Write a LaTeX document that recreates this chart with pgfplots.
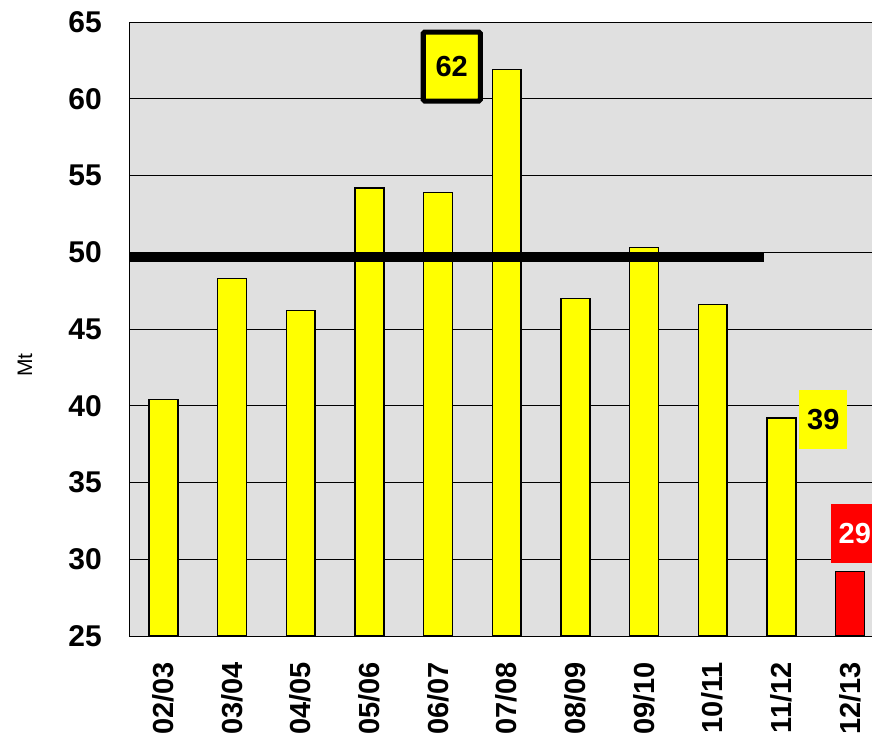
\documentclass[border=0pt]{standalone}
\usepackage{pgfplots}
\pgfplotsset{compat=1.18}
\usepackage{fontspec}
\setmainfont{Liberation Sans}
\definecolor{bg}{HTML}{E0E0E0}
\definecolor{ye}{HTML}{FFFF00}
\definecolor{re}{HTML}{FF0000}
\begin{document}
\begin{tikzpicture}[x=1pt,y=1pt]
\useasboundingbox (0,0) rectangle (872,743);
\begin{axis}[
  at={(129pt,107pt)}, anchor=south west,
  width=743pt, height=614pt, scale only axis,
  xmin=-0.5, xmax=10.32, ymin=25, ymax=65,
  ytick={25,30,...,65},
  xtick={0,...,10},
  xticklabels={02/03,03/04,04/05,05/06,06/07,07/08,08/09,09/10,10/11,11/12,12/13},
  major tick length=0pt,
  ymajorgrids, grid style={black, line width=0.8pt},
  axis background/.style={fill=bg},
  axis line style={black, line width=0.8pt},
  /pgf/number format/assume math mode=true,
  yticklabel style={font=\fontsize{30}{30}\selectfont\bfseries, anchor=east, inner sep=0pt, xshift=-27pt},
  xticklabel style={font=\fontsize{29}{29}\selectfont\bfseries, rotate=90, anchor=east, inner sep=0pt, xshift=-26pt},
  clip=false,
]
\addplot[ybar, bar width=0.42, bar shift=0pt, fill=ye, draw=black, line width=1.5pt]
  coordinates {(0,40.4) (1,48.3) (2,46.2) (3,54.2) (4,53.9) (5,61.9) (6,47.0) (7,50.3) (8,46.6) (9,39.2)};
\addplot[ybar, bar width=0.42, bar shift=0pt, fill=re, draw=black, line width=1.5pt]
  coordinates {(10,29.2)};
\addplot[black, line width=10pt, line cap=butt] coordinates {(-0.5,49.7) (8.74,49.7)};
\node[fill=ye, draw=black, line width=5pt, rounded corners=1.5pt, minimum width=57pt, minimum height=69pt, inner sep=0pt,
  font=\fontsize{29}{29}\selectfont\bfseries] at (axis cs:4.2,62.1) {62};
\node[fill=ye, minimum width=48pt, minimum height=59pt, inner sep=0pt,
  font=\fontsize{29}{29}\selectfont\bfseries] at (axis cs:9.61,39.1) {39};
\node[fill=re, text=white, minimum width=48pt, minimum height=59pt, inner sep=0pt,
  font=\fontsize{29}{29}\selectfont\bfseries] at (axis cs:10.07,31.67) {29};
\end{axis}
\node[rotate=90, font=\fontsize{21}{21}\selectfont] at (25,378) {Mt};
\end{tikzpicture}
\end{document}
